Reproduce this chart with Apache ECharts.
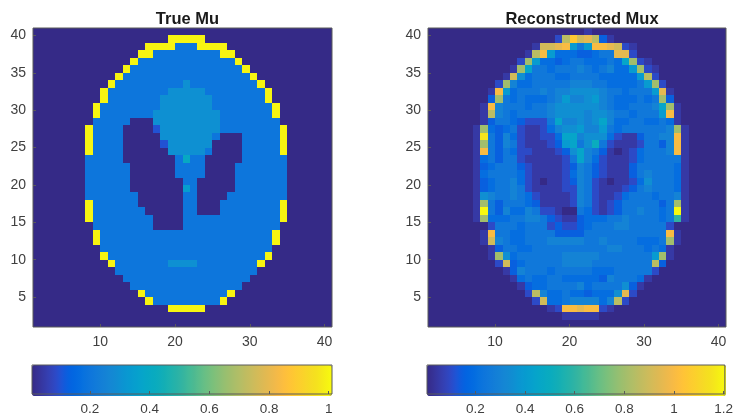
<!DOCTYPE html>
<html><head><meta charset="utf-8">
<style>html,body{margin:0;padding:0;background:#fff}#c{width:736px;height:416px;filter:blur(0.45px)}</style>
<script src="https://cdn.jsdelivr.net/npm/echarts@6/dist/echarts.min.js"></script>
</head><body><div id="c"></div>
<script>
// Cell values, top row first, one character per cell; the character is base-36 count of 0.05 units.
const trueMuRows = [
"0000000000 0000000000 0000000000 0000000000",
"0000000000 00000000kk kkk0000000 0000000000",
"0000000000 00000kkkk4 44kkkk0000 0000000000",
"0000000000 0000kk4444 44444kk000 0000000000",
"0000000000 000k444444 4444444k00 0000000000",
"0000000000 00k4444444 44444444k0 0000000000",
"0000000000 0k44444444 444444444k 0000000000",
"0000000000 k444444444 6444444444 k000000000",
"000000000k 4444444466 6664444444 4k00000000",
"000000000k 4444444666 6666444444 4k00000000",
"00000000k4 4444444666 6666444444 44k0000000",
"00000000k4 4444446666 6666644444 44k0000000",
"0000000044 4440006666 6666644444 4440000000",
"0000000k44 4400002666 6666644444 444k000000",
"0000000k44 4400000666 6666400044 444k000000",
"0000000k44 4400000266 6666000044 444k000000",
"0000000k44 4400000066 6664000044 444k000000",
"0000000444 4400000004 8440000044 4444000000",
"0000000444 4440000004 4440000444 4444000000",
"0000000444 4440000004 4440000444 4444000000",
"0000000444 4440000000 4400000444 4444000000",
"0000000444 4440000000 7400000444 4444000000",
"0000000444 4444000000 4400004444 4444000000",
"0000000k44 4444000000 4400044444 444k000000",
"0000000k44 4444400000 4400044444 444k000000",
"0000000k44 4444440000 4444444444 444k000000",
"0000000044 4444440000 4444444444 4440000000",
"00000000k4 4444444444 4444444444 44k0000000",
"00000000k4 4444444444 4444444444 44k0000000",
"0000000004 4444444444 4444444444 4400000000",
"000000000k 4444444444 4444444444 4k00000000",
"0000000000 k444444466 6644444444 k000000000",
"0000000000 0444444444 4444444444 0000000000",
"0000000000 0044444444 4444444440 0000000000",
"0000000000 0004444444 4444444400 0000000000",
"0000000000 0000k44444 444444k000 0000000000",
"0000000000 00000k4444 44444k0000 0000000000",
"0000000000 00000000kk kkk0000000 0000000000",
"0000000000 0000000000 0000000000 0000000000",
"0000000000 0000000000 0000000000 0000000000"
];
const reconMuxRows = [
"0000000000 0000000000 0100000000 0000000000",
"0000000000 00000002hl ijh3100000 0000000000",
"0000000000 00001iijk8 58kkji2100 0000000000",
"0000000000 0001hk8444 33455jj200 0000000000",
"0000000000 002g844345 5444549g21 0000000000",
"0000000000 01g9554555 65456448g2 1000000000",
"0000000000 1i74555445 555444448h 2000000000",
"0000000002 g644555556 6655444458 g200000000",
"000000001k 8455565667 7776554555 8j10000000",
"000000003g 5454445686 6786544454 5g30000000",
"00000001k6 5554556777 7776544555 69g1000000",
"00000001h6 5455556777 7677655455 58k1000000",
"0000000135 5432225966 7679644554 4541000000",
"0000001g43 4521124677 8668545555 556g100000",
"0000001n53 6421122499 6777421135 566k100000",
"0000001g53 6521112389 57a5211125 536k100000",
"0000001k53 5422111237 9653101245 556k100000",
"0000001453 5521111125 9642111245 5555100000",
"0000001345 5532111123 6532111355 5554100000",
"0000001455 5542111124 6532111356 5554100000",
"0000001345 5642101123 6521011247 5554100000",
"0000001345 5652111122 6521112356 5554100000",
"0000001765 5654211112 6521124555 4556100000",
"0000001g53 5554311112 6521235555 535g100000",
"0000001o53 6446522100 5421235565 545o100000",
"0000001g44 4556653211 3444556555 545c100000",
"0000000025 5545552322 3455566555 5520000000",
"00000001k5 5445555333 3555555555 55k1000000",
"00000001i6 5445556666 6556555544 45g1000000",
"0000000013 5544555555 5555665554 5410000000",
"000000001g 7455555566 6665555555 8g10000000",
"0000000002 i345555566 6655555555 h300000000",
"0000000000 1365554555 5544455555 2000000000",
"0000000000 0145445544 4443655541 0000000000",
"0000000000 0013445555 6455557310 0000000000",
"0000000000 0002h64454 434447j200 0000000000",
"0000000000 00002i4456 66646h2000 0000000000",
"0000000000 00000012kk jkk2100000 0000000000",
"0000000000 0000000011 1110000000 0000000000",
"0000000000 0000000000 0000000000 0000000000"
];
const xTicks = [10, 20, 30, 40];
const yTicks = [5, 10, 15, 20, 25, 30, 35, 40];
const muBarTicks = [0.2, 0.4, 0.6, 0.8, 1];
const muxBarTicks = [0.2, 0.4, 0.6, 0.8, 1, 1.2];
const muRange = [0.006, 1.011];
const muxRange = [0.005, 1.205];
const parula = ["#352a87","#363093","#3637a0","#353dad","#3243ba","#2c4ac7","#2053d4","#0f5cdd","#0363e1","#0268e1","#046de0","#0872de","#0d75dc","#1079da","#127dd8","#1481d6","#1485d4","#1389d3","#108ed2","#0c93d2","#0998d1","#079ccf","#06a0cd","#06a4ca","#06a7c6","#07a9c2","#0aacbe","#0fadb9","#15afb4","#1db1af","#25b2a9","#2eb3a4","#38b59e","#42ba97","#4db991","#59bd8c","#65be86","#70bf81","#7bc07b","#86bf77","#92bf72","#9bbf6e","#a5be6b","#aebe67","#b7bd64","#c0bc60","#c8bc5d","#d1bb59","#d9ba56","#e1b952","#e9b94e","#f1b94a","#f8bb44","#fdbe3d","#ffc337","#fec832","#fcce2e","#fad32a","#f7d826","#f5de21","#f5e31d","#f5eb18","#f6f313","#f9fb0e"];

function cells(rows) {
  const out = [];
  rows.forEach((row, r) => {
    row.replace(/ /g, '').split('').forEach((ch, c) => {
      out.push([c + 1, 40 - r, parseInt(ch, 36) * 0.05]);
    });
  });
  return out;
}
function renderCell(params, api) {
  const p0 = api.coord([api.value(0), api.value(1) + 1]);
  const p1 = api.coord([api.value(0) + 1, api.value(1)]);
  const x0 = Math.round(p0[0]), y0 = Math.round(p0[1]);
  return {
    type: 'rect',
    shape: { x: x0, y: y0, width: Math.round(p1[0]) - x0, height: Math.round(p1[1]) - y0 },
    style: { fill: api.visual('color') }
  };
}
const textColor = '#404040', lineColor = '#5a5a5a', fontFamily = '"Liberation Sans", Arial, sans-serif';
const panels = [
  { left: 33, top: 28, w: 299, h: 299, title: 'True Mu', rows: trueMuRows },
  { left: 428, top: 28, w: 298, h: 299, title: 'Reconstructed Mux', rows: reconMuxRows }
];
const bars = [
  { left: 32, top: 365, w: 300, h: 31, range: muRange, ticks: muBarTicks },
  { left: 427, top: 365, w: 299, h: 31, range: muxRange, ticks: muxBarTicks }
];
const label = (m, s) => ({ color: textColor, fontSize: s, fontFamily: fontFamily, margin: m });
const grid = [], xAxis = [], yAxis = [], series = [], title = [], visualMap = [];
panels.forEach((p, i) => {
  grid.push({ left: p.left, top: p.top, width: p.w, height: p.h, show: true, z: 10, backgroundColor: 'transparent', borderColor: lineColor, borderWidth: 1 });
  xAxis.push({ type: 'value', gridIndex: i, min: 1, max: 41, z: 10, splitLine: { show: false },
    axisLine: { show: false }, axisTick: { inside: true, length: 3, lineStyle: { color: lineColor }, customValues: xTicks },
    axisLabel: Object.assign(label(8, 14), { customValues: xTicks }) });
  yAxis.push({ type: 'value', gridIndex: i, min: 1, max: 41, z: 10, splitLine: { show: false },
    axisLine: { show: false }, axisTick: { inside: true, length: 3, lineStyle: { color: lineColor }, customValues: yTicks },
    axisLabel: Object.assign(label(7, 14), { customValues: yTicks, padding: [2, 0, 0, 0] }) });
  series.push({ type: 'custom', xAxisIndex: i, yAxisIndex: i, coordinateSystem: 'cartesian2d', silent: true, animation: false,
    renderItem: renderCell, encode: { x: 0, y: 1 }, data: cells(p.rows) });
  title.push({ text: p.title, left: p.left + p.w / 2, top: 6, textAlign: 'center',
    textStyle: { fontSize: 16.5, fontWeight: 'bold', color: '#1a1a1a', fontFamily: fontFamily } });
});
bars.forEach((b, i) => {
  const g = i + 2;
  grid.push({ left: b.left, top: b.top, width: b.w, height: b.h, show: true, z: 10, backgroundColor: 'transparent', borderColor: lineColor, borderWidth: 1 });
  xAxis.push({ type: 'value', gridIndex: g, min: b.range[0], max: b.range[1], z: 10, splitLine: { show: false },
    axisLine: { show: false }, axisTick: { inside: true, length: 3, lineStyle: { color: lineColor }, customValues: b.ticks },
    axisLabel: Object.assign(label(8, 13.5), { customValues: b.ticks }) });
  yAxis.push({ type: 'value', gridIndex: g, min: 0, max: 1, show: false });
  visualMap.push({ type: 'continuous', seriesIndex: i, dimension: 2, min: b.range[0], max: b.range[1],
    orient: 'horizontal', left: b.left, top: b.top, itemWidth: b.h, itemHeight: b.w, padding: 0,
    calculable: false, hoverLink: false, text: null, showLabel: false, z: 4,
    inRange: { color: parula }, outOfRange: { color: parula[0] } });
});
const chart = echarts.init(document.getElementById('c'), null, { renderer: 'canvas' });
chart.setOption({ animation: false, backgroundColor: '#fff', title, grid, xAxis, yAxis, series, visualMap });
</script></body></html>
